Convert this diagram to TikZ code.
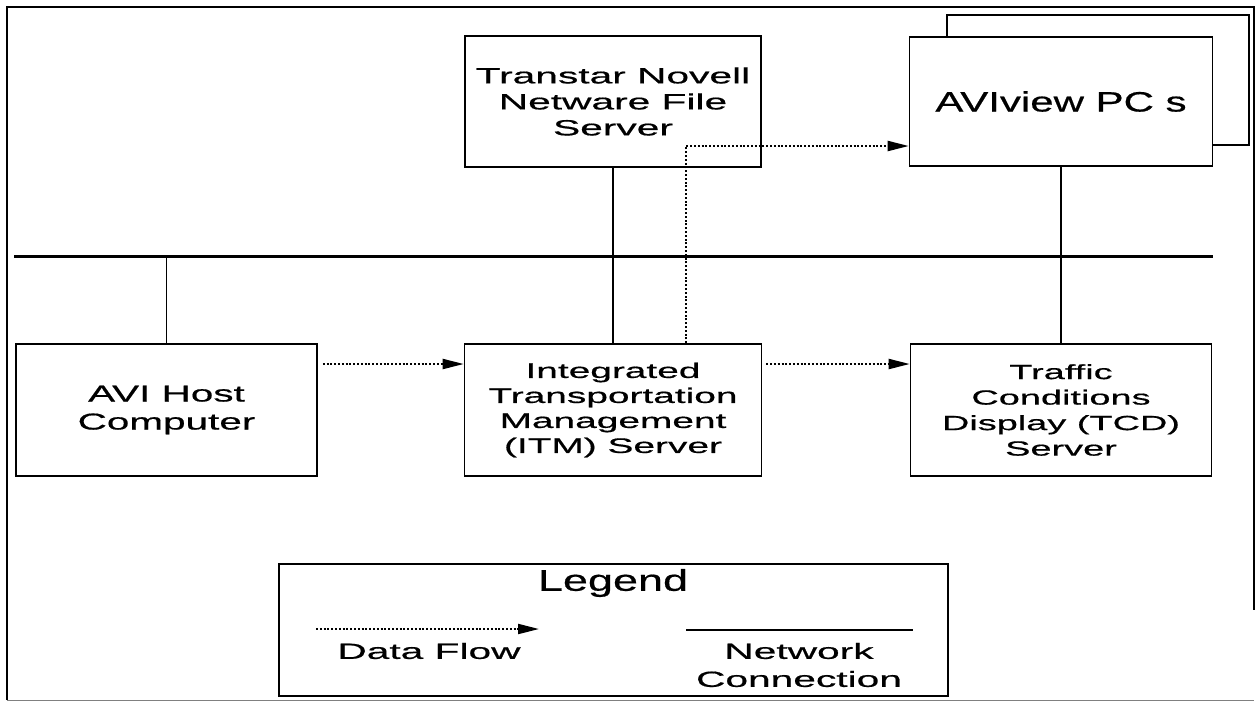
\documentclass[tikz,border=0pt]{standalone}
\usepackage{fontspec}
\setmainfont{Liberation Sans}
\newfontfamily\boxfont[FakeStretch=1.85,FakeBold=0.6]{Liberation Sans}
\newfontfamily\hostfont[FakeStretch=1.76,FakeBold=0.6]{Liberation Sans}
\newfontfamily\titlefont[FakeStretch=1.5,FakeBold=0.6]{Liberation Sans}
\usetikzlibrary{arrows.meta}

\begin{document}
\begin{tikzpicture}[x=1pt,y=-1pt,
  unit/.style={draw, fill=white, line width=1.6pt, inner sep=0pt, align=center,
    font=\boxfont\fontsize{21}{25}\selectfont},
  bigunit/.style={unit, font=\titlefont\fontsize{28}{32}\selectfont},
  net/.style={line width=1.3pt},
  bus/.style={line width=3pt},
  flow/.style={line width=2pt, dash pattern=on 2pt off 1.8pt,
    -{Triangle[length=21pt,width=10pt]}},
  legtext/.style={inner sep=0pt, align=center, font=\boxfont\fontsize{22}{28}\selectfont},
]
\useasboundingbox (0,0) rectangle (1257,702);

% outer frame
\draw[line width=2.5pt] (7,700) -- (7,7) -- (1254,7) -- (1254,610);
\draw[line width=1pt, gray] (7,700) -- (1254,700);

% servers and workstations
\node[unit, minimum width=296pt, minimum height=131pt,
  font=\boxfont\fontsize{22}{26}\selectfont] (tns) at (613,101.5)
  {Transtar Novell\\Netware File\\Server};
\node[unit, minimum width=302pt, minimum height=130pt] (avb) at (1098,80) {};
\node[bigunit, minimum width=303pt, minimum height=129pt] (avf) at (1061,101.5)
  {AVIview PC s};
\node[unit, minimum width=301pt, minimum height=132pt,
  font=\hostfont\fontsize{23}{28}\selectfont] (host) at (166.5,410)
  {AVI Host\\Computer};
\node[unit, minimum width=297pt, minimum height=132pt] (itm) at (613,410)
  {Integrated\\Transportation\\Management\\(ITM) Server};
\node[unit, minimum width=301pt, minimum height=132pt,
  font=\boxfont\fontsize{20.5}{25.5}\selectfont] (tcd) at (1061,410)
  {Traffic\\Conditions\\Display (TCD)\\Server};

% network backbone
\coordinate (busL) at (14,256);
\coordinate (busR) at (1213,256);
\draw[bus] (busL) -- (busR);
\draw[net] (host.north) -- (host.north |- busL);
\draw[net] (tns.south) -- (itm.north);
\draw[net] (avf.south) -- (tcd.north);

% data flows
\draw[flow] ([xshift=5pt,yshift=46pt]host.east) -- ([yshift=46pt]itm.west);
\draw[flow] ([xshift=4pt,yshift=46pt]itm.east) -- ([yshift=46pt]tcd.west);
\coordinate (bend) at (686,146);
\draw[flow] (itm.north -| bend) -- (bend) -- (avf.west |- bend);

% legend
\node[draw, line width=2pt, minimum width=669pt, minimum height=132pt] (leg) at (613.5,630) {};
\node[inner sep=0pt, font=\titlefont\fontsize{30}{34}\selectfont] (legtitle) at (613,583) {Legend};
\coordinate (dfA) at (316,629);
\coordinate (dfB) at (539,629);
\draw[flow] (dfA) -- (dfB);
\node[legtext] (dftext) at (429,651) {Data Flow};
\coordinate (ncA) at (686,630);
\coordinate (ncB) at (913,630);
\draw[net] (ncA) -- (ncB);
\node[legtext] (nctext) at (799,665) {Network\\Connection};
\end{tikzpicture}
\end{document}
